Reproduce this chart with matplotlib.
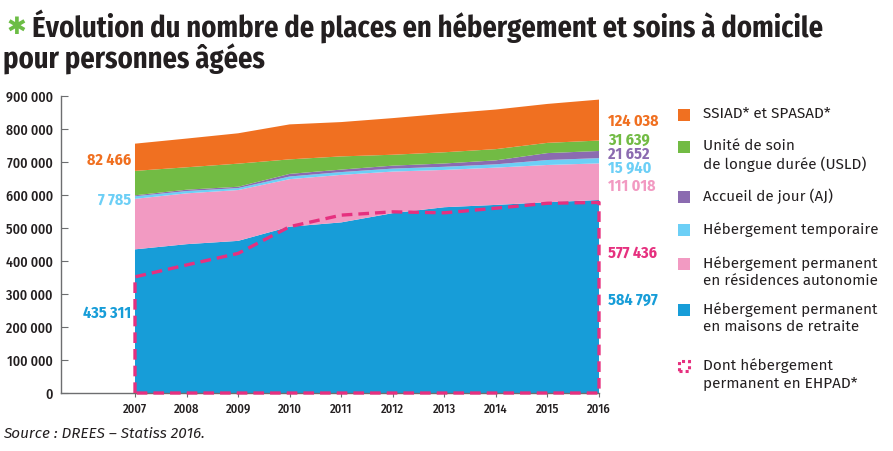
import matplotlib
matplotlib.use("Agg")
import matplotlib.pyplot as plt
from matplotlib.patches import Rectangle
from matplotlib.ticker import FuncFormatter
from matplotlib import font_manager
import logging
logging.getLogger("matplotlib.font_manager").setLevel(logging.ERROR)

years = [2007, 2008, 2009, 2010, 2011, 2012, 2013, 2014, 2015, 2016]
maisons_retraite = [435311, 451000, 461000, 504000, 517000, 545000, 563000, 570000, 578000, 584797]
residences_autonomie = [153000, 154000, 154000, 144000, 144000, 126000, 113000, 113000, 113000, 111018]
hebergement_temporaire = [7785, 7000, 6000, 8000, 8500, 9000, 9500, 10000, 15000, 15940]
accueil_jour = [3000, 4000, 4000, 8000, 7500, 9000, 10000, 12000, 21000, 21652]
usld = [74000, 68000, 70000, 44000, 40000, 33000, 34000, 34000, 31000, 31639]
ssiad_spasad = [82466, 87000, 92000, 106000, 104000, 111000, 117000, 120000, 118000, 124038]
ehpad = [352000, 388000, 423000, 504000, 539000, 549000, 546000, 560000, 575000, 577436]

legend_labels = ["SSIAD* et SPASAD*", "Unité de soin\nde longue durée (USLD)", "Accueil de jour (AJ)",
                 "Hébergement temporaire", "Hébergement permanent\nen résidences autonomie",
                 "Hébergement permanent\nen maisons de retraite", "Dont hébergement\npermanent en EHPAD*"]

c_blue = "#179dd8"
c_pink = "#f29ac2"
c_lblue = "#6ccff6"
c_purple = "#8b6bb0"
c_green = "#72bb44"
c_orange = "#f07021"
c_mag = "#e6307f"
c_text = "#231f20"

avail = {f.name for f in font_manager.fontManager.ttflist}
def pick(cands):
    out = [c for c in cands if c in avail]
    return out + ["DejaVu Sans"]

narrow = pick(["Fira Sans Condensed", "IBM Plex Sans Condensed", "Open Sans Condensed"])
body = pick(["Fira Sans", "Open Sans"])

fig = plt.figure(figsize=(8.93, 4.51), dpi=100)
ax = fig.add_axes([61/893, 58/451, 538/893, 297/451])

ax.stackplot(years, maisons_retraite, residences_autonomie, hebergement_temporaire,
             accueil_jour, usld, ssiad_spasad,
             colors=[c_blue, c_pink, c_lblue, c_purple, c_green, c_orange], linewidth=0)

ex = [years[0]] + years + [years[-1], years[0]]
ey = [0] + ehpad + [0, 0]
ax.plot(ex, ey, color=c_mag, lw=2.4, ls=(0, (3.2, 1.8)), clip_on=False, zorder=5)

ax.set_xlim(2007 - 74/51.56, 2016)
ax.set_ylim(0, 900000)
ax.set_yticks(range(0, 900001, 100000))
ax.yaxis.set_major_formatter(FuncFormatter(lambda v, p: f"{int(v):,}".replace(",", " ")))
ax.set_xticks(years)
for s in ["top", "right"]:
    ax.spines[s].set_visible(False)
for s in ["left", "bottom"]:
    ax.spines[s].set_color("#6d6e70")
    ax.spines[s].set_linewidth(1.0)
ax.tick_params(axis="y", direction="in", length=5, color="#6d6e70", labelsize=10, labelcolor=c_text, pad=6)
ax.tick_params(axis="x", direction="out", length=3, color="#6d6e70", labelsize=9, labelcolor=c_text, pad=4)
for lab in ax.get_yticklabels() + ax.get_xticklabels():
    lab.set_family(narrow)
    lab.set_fontweight("medium")

def fmt(v):
    return f"{int(round(v)):,}".replace(",", " ")

lab_kw = dict(va="center", fontsize=11.5, fontweight="bold", family=narrow)
fig.text(131/893, 1 - 160/451, fmt(ssiad_spasad[0]), color=c_orange, ha="right", **lab_kw)
fig.text(131/893, 1 - 200/451, fmt(hebergement_temporaire[0]), color=c_lblue, ha="right", **lab_kw)
fig.text(131/893, 1 - 313/451, fmt(maisons_retraite[0]), color=c_blue, ha="right", **lab_kw)

right = [(ssiad_spasad[-1], c_orange, 121), (usld[-1], c_green, 140), (accueil_jour[-1], c_purple, 154),
         (hebergement_temporaire[-1], c_lblue, 168), (residences_autonomie[-1], c_pink, 186),
         (ehpad[-1], c_mag, 253), (maisons_retraite[-1], c_blue, 300)]
for v, c, y in right:
    fig.text(608/893, 1 - y/451, fmt(v), color=c, ha="left", **lab_kw)

leg_colors = [c_orange, c_green, c_purple, c_lblue, c_pink, c_blue, None]
leg_y = [115, 147, 197, 230, 264, 310, 366]
for lab, c, y in zip(legend_labels, leg_colors, leg_y):
    if c is not None:
        fig.patches.append(Rectangle((678/893, 1 - (y + 6)/451), 12/893, 12/451, transform=fig.transFigure,
                                     facecolor=c, edgecolor="none"))
    else:
        fig.patches.append(Rectangle((679/893, 1 - (y + 5)/451), 10/893, 10/451, transform=fig.transFigure,
                                     facecolor="none", edgecolor=c_mag, lw=2.2, ls=(0, (1, 1))))
    fig.text(703/893, 1 - (y - 8)/451, lab, color=c_text, ha="left", va="top",
             fontsize=11, family=body, linespacing=1.25)

fig.text(6/893, 1 - 27/451, "\u2731", color="#6cbd45", ha="left", va="center", fontsize=17,
         fontweight="bold", family=["DejaVu Sans"])
fig.text(32/893, 1 - 26/451, "Évolution du nombre de places en hébergement et soins à domicile",
         color=c_text, ha="left", va="center", fontsize=20.5, fontweight="bold", family=narrow)
fig.text(3/893, 1 - 59/451, "pour personnes âgées",
         color=c_text, ha="left", va="center", fontsize=20.5, fontweight="bold", family=narrow)

fig.text(3/893, 1 - 434/451, "Source : DREES \u2013 Statiss 2016.", color=c_text, ha="left", va="center",
         fontsize=11, style="italic", family=body)

fig.savefig("out.png", dpi=100)
